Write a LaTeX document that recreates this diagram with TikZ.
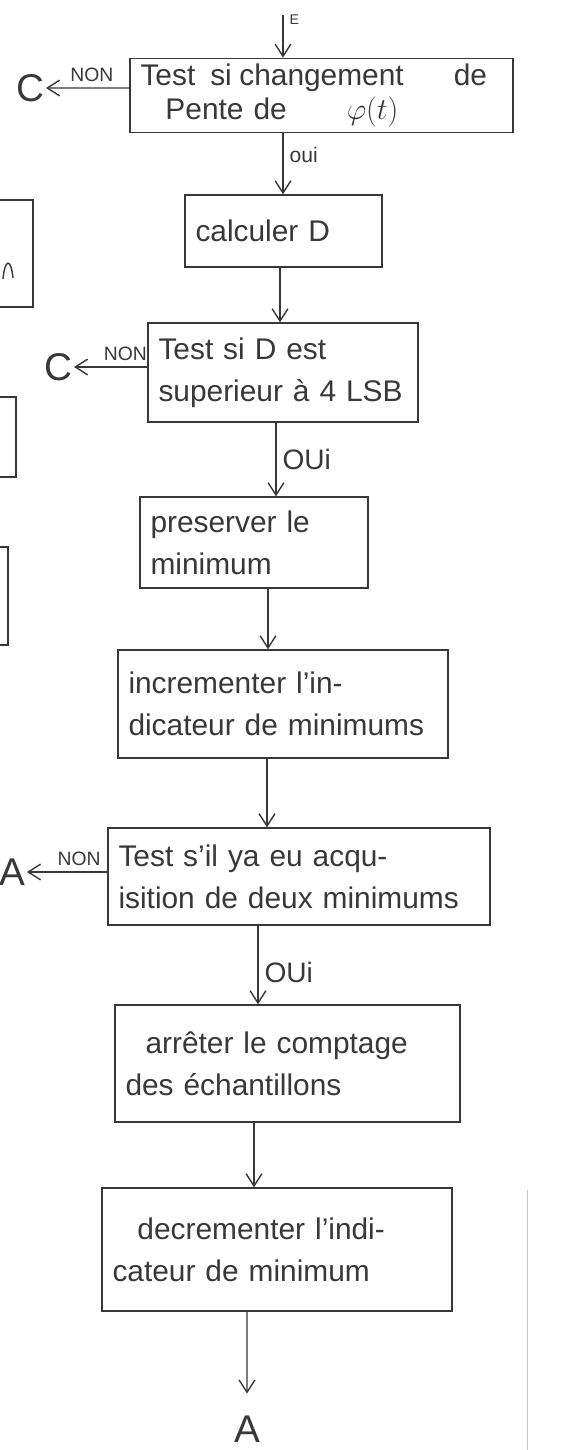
\documentclass[tikz,border=0pt]{standalone}
\usepackage{fontspec}
\setmainfont{Liberation Sans}
\usepackage{amsmath}
\usetikzlibrary{arrows.meta}
\definecolor{ink}{gray}{0.22}

\begin{document}
\begin{tikzpicture}[
    every node/.style={text=ink},
    box/.style={draw=ink, line width=0.8pt, align=left, inner xsep=6pt, font=\fontsize{17}{24}\selectfont},
    flow/.style={draw=ink, line width=0.8pt, -{Straight Barb[length=7pt, width=9pt]}},
    lbl/.style={font=\fontsize{11}{13}\selectfont},
    yes/.style={right, font=\fontsize{16}{18}\selectfont},
    exit/.style={inner sep=1pt, font=\fontsize{22}{24}\selectfont},
    frag/.style={draw=ink, line width=0.8pt}
]
\useasboundingbox (0,0) rectangle (11.7,-29);

\node[box, text width=7.24cm, minimum height=1.30cm, font=\fontsize{17}{19}\selectfont] (T1) at (6.43,-1.91)
    {Test\hspace{0.3cm}si\hspace{0.15cm}changement\hspace{1cm}de\\\hspace{0.5cm}Pente de\hspace{1.2cm}$\varphi(t)$};
\node[box, text width=3.52cm, minimum height=1.44cm] (Cal) at (5.67,-4.62) {calculer D};
\node[box, text width=4.98cm, minimum height=1.98cm] (T2) at (5.66,-7.45) {Test si D est\\superieur à 4 LSB};
\node[box, text width=4.14cm, minimum height=1.82cm] (Pre) at (5.08,-10.85) {preserver le\\minimum};
\node[box, text width=6.18cm, minimum height=2.16cm] (Inc) at (5.66,-14.08) {incrementer l'in-\\dicateur de minimums};
\node[box, text width=7.22cm, minimum height=1.94cm] (T3) at (5.98,-17.53) {Test s'il ya eu acqu-\\isition de deux minimums};
\node[box, text width=6.48cm, minimum height=2.34cm] (Arr) at (5.75,-21.27) {\hspace{0.4cm}arrêter le comptage\\des échantillons};
\node[box, text width=6.58cm, minimum height=2.46cm] (Dec) at (5.54,-24.99) {\hspace{0.5cm}decrementer l'indi-\\cateur de minimum};

\node[exit] (C1) at (0.60,-1.76) {C};
\node[exit] (C2) at (1.16,-7.34) {C};
\node[exit] (A1) at (0.24,-17.44) {A};
\node[exit] (A2) at (4.94,-28.58) {A};
\coordinate (E) at (5.66,-0.30);

\draw[flow] (E) -- node[lbl, right, pos=0.1, font=\fontsize{8}{9}\selectfont] {E} (E |- T1.north);
\draw[flow] ([yshift=0.15cm]T1.west) -- node[lbl, above, pos=0.45] {NON} (C1);
\draw[flow] ([xshift=-0.77cm]T1.south) -- node[yes, pos=0.35, font=\fontsize{12}{14}\selectfont] {oui} ([xshift=-0.77cm]T1.south |- Cal.north);
\draw[flow] ([xshift=-0.07cm]Cal.south) -- ([xshift=-0.07cm]Cal.south |- T2.north);
\draw[flow] ([yshift=0.11cm]T2.west) -- node[lbl, above, pos=0.3] {NON} (C2);
\draw[flow] ([xshift=-0.14cm]T2.south) -- node[yes, pos=0.5] {OUi} ([xshift=-0.14cm]T2.south |- Pre.north);
\draw[flow] ([xshift=0.28cm]Pre.south) -- ([xshift=0.28cm]Pre.south |- Inc.north);
\draw[flow] ([xshift=-0.32cm]Inc.south) -- ([xshift=-0.32cm]Inc.south |- T3.north);
\draw[flow] ([yshift=0.09cm]T3.west) -- node[lbl, above, pos=0.35] {NON} (A1);
\draw[flow] ([xshift=-0.82cm]T3.south) -- node[yes, pos=0.6] {OUi} ([xshift=-0.82cm]T3.south |- Arr.north);
\draw[flow] ([xshift=-0.67cm]Arr.south) -- ([xshift=-0.67cm]Arr.south |- Dec.north);
\draw[flow] ([xshift=-0.60cm]Dec.south) -- ([yshift=0.4cm]A2.north);

\draw[frag] (0,-4.00) -| (0.66,-6.14) -- (0,-6.14);
\draw[frag] (0.06,-5.58) .. controls (0.10,-5.16) and (0.22,-5.16) .. (0.26,-5.56);
\draw[frag] (0,-7.94) -| (0.32,-9.54) -- (0,-9.54);
\draw[frag] (0,-10.94) -| (0.16,-12.90) -- (0,-12.90);
\draw[gray!45, line width=0.5pt] (10.54,-23.8) -- (10.54,-29);
\end{tikzpicture}
\end{document}
